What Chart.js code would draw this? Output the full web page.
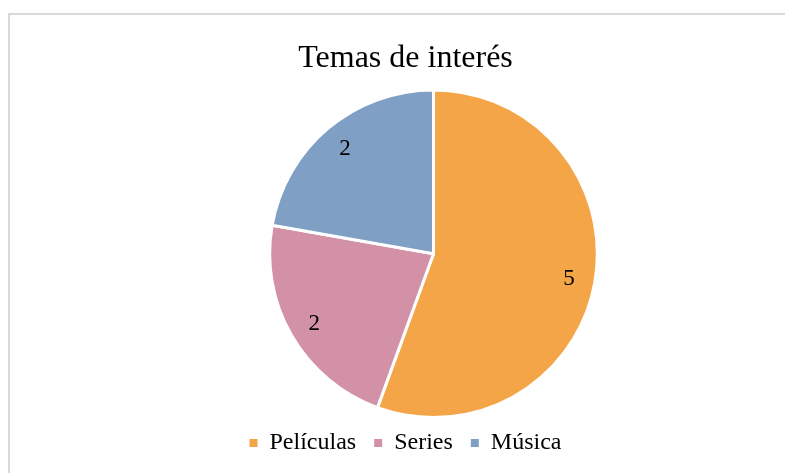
<!DOCTYPE html>
<html><head><meta charset="utf-8">
<script src="https://cdn.jsdelivr.net/npm/chart.js@4/dist/chart.umd.min.js"></script>
<style>
html,body{margin:0;padding:0;background:#fff;overflow:hidden}
#wrap{position:relative;width:785px;height:473px}
#frame{position:absolute;left:8px;top:13px;width:800px;height:500px;border:2px solid #d9d9d9;box-sizing:border-box}
canvas{position:absolute;left:0;top:0}
</style></head><body>
<div id="wrap"><div id="frame"></div><canvas id="c" width="785" height="473"></canvas></div>
<script>
const categories = ['Películas', 'Series', 'Música'];
const values = [5, 2, 2];
const sliceColors = ['#F4A548', '#D291A6', '#7F9FC5'];
const chartTitle = 'Temas de interés';

const FONT = '"Liberation Serif", "Times New Roman", serif';

const shiftArea = {
  id: 'shiftArea',
  afterLayout(chart) {
    const a = chart.chartArea;
    a.left += 28; a.right += 28;
    a.top -= 1;
    a.bottom += 6;
    a.height = a.bottom - a.top;
  }
};

const valueLabels = {
  id: 'valueLabels',
  afterDatasetsDraw(chart) {
    const ctx = chart.ctx;
    const meta = chart.getDatasetMeta(0);
    ctx.save();
    ctx.font = '23px ' + FONT;
    ctx.fillStyle = '#000';
    ctx.textAlign = 'center';
    ctx.textBaseline = 'middle';
    meta.data.forEach((el, i) => {
      const p = el.getProps(['x', 'y', 'startAngle', 'endAngle', 'outerRadius'], true);
      const mid = (p.startAngle + p.endAngle) / 2;
      const r = p.outerRadius * 0.84;
      ctx.fillText(String(values[i]), p.x + Math.cos(mid) * r, p.y + Math.sin(mid) * r + 1);
    });
    ctx.restore();
  }
};

new Chart(document.getElementById('c'), {
  type: 'pie',
  data: {
    labels: categories,
    datasets: [{
      data: values,
      backgroundColor: sliceColors,
      borderColor: '#ffffff',
      borderWidth: 3
    }]
  },
  options: {
    responsive: false,
    animation: false,
    devicePixelRatio: 1,
    layout: { padding: { top: 13, left: 26, right: 0, bottom: 8 } },
    plugins: {
      title: {
        display: true,
        text: chartTitle,
        color: '#000',
        font: { family: FONT, size: 32, weight: 'normal', lineHeight: 1.2 },
        padding: { top: 26, bottom: 12 }
      },
      legend: {
        position: 'bottom',
        labels: {
          color: '#000',
          font: { family: FONT, size: 24 },
          boxWidth: 8,
          boxHeight: 8,
          padding: 18,
          generateLabels: () => categories.map((c, i) => ({
            text: c, fillStyle: sliceColors[i], strokeStyle: 'transparent',
            lineWidth: 0, hidden: false, index: i, fontColor: '#000'
          }))
        }
      },
      tooltip: { enabled: false }
    }
  },
  plugins: [shiftArea, valueLabels]
});
</script>
</body></html>
